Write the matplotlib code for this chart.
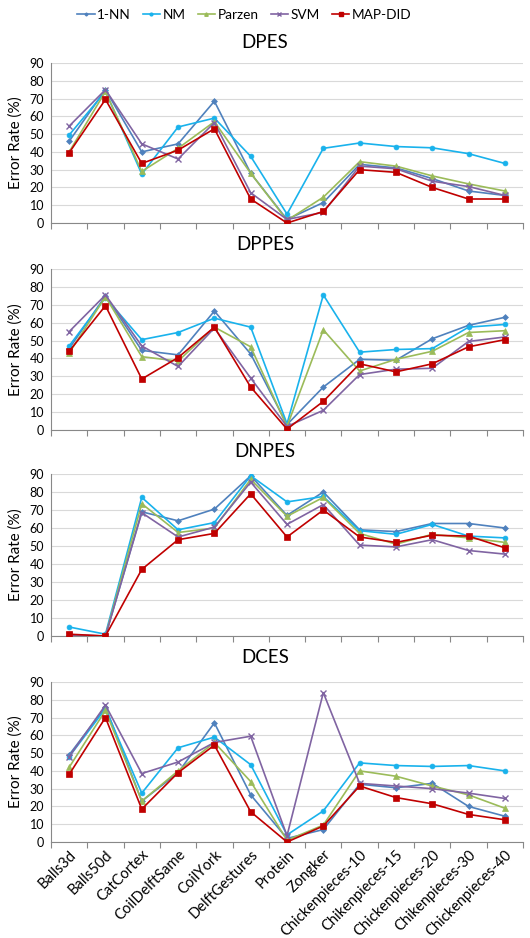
import matplotlib
matplotlib.use("Agg")
import matplotlib.pyplot as plt
from matplotlib.lines import Line2D

plt.rcParams['font.family'] = ['Lato', 'DejaVu Sans']

datasets = ["Balls3d", "Balls50d", "CatCortex", "CoilDelftSame", "CoilYork", "DelftGestures",
            "Protein", "Zongker", "Chickenpieces-10", "Chikenpieces-15", "Chickenpieces-20",
            "Chikenpieces-30", "Chickenpieces-40"]
methods = ["1-NN", "NM", "Parzen", "SVM", "MAP-DID"]
panel_titles = ["DPES", "DPPES", "DNPES", "DCES"]

# DPES
dpes_1nn = [46, 75, 40, 44.5, 68.5, 28, 2, 11.5, 33, 31, 25, 18, 15.5]
dpes_nm = [49.5, 74, 27.5, 54, 59, 37.5, 5, 42, 45, 43, 42.3, 39, 33.5]
dpes_parzen = [40, 74, 29, 42, 57, 28, 1.5, 14.5, 34.5, 32, 26.5, 22, 18]
dpes_svm = [54.5, 75, 44.5, 36, 56.5, 17, 2, 6, 32, 30.5, 23.5, 20.5, 15.5]
dpes_mapdid = [39.5, 69.5, 33.5, 41, 53, 13.5, 0, 6.5, 30, 28.5, 20, 13.5, 13.5]

# DPPES
dppes_1nn = [45.5, 75, 44.5, 42, 66.5, 42.5, 3, 24, 39.5, 39, 51, 58.5, 63]
dppes_nm = [47, 74, 50.5, 54.5, 62.5, 57.5, 3.5, 75.5, 43.5, 45, 45.5, 57.5, 59]
dppes_parzen = [43, 74.5, 41, 38.5, 57.5, 46.5, 2, 56, 33, 39.5, 44, 54.5, 55.5]
dppes_svm = [55, 75.5, 47, 35.5, 57, 29, 2, 11, 31, 34, 34.5, 49.5, 52]
dppes_mapdid = [44, 69.5, 28.5, 40.5, 57.5, 24, 0.5, 16, 37, 32.5, 37, 46.5, 50.5]

# DNPES
dnpes_1nn = [0.5, 0, 69, 64, 70.5, 89, 67, 80, 59, 58, 62.5, 62.5, 60]
dnpes_nm = [5, 1, 77, 59, 63, 89, 74.5, 77.5, 58.5, 56.5, 62, 55.5, 54.5]
dnpes_parzen = [0, 0, 73.5, 57.5, 60, 87, 66.5, 77, 57, 51, 56.5, 54.5, 52]
dnpes_svm = [0.5, 0, 68.5, 55, 60.5, 85.5, 62, 73, 50.5, 49.5, 53.5, 47.5, 45.5]
dnpes_mapdid = [1, 0, 37, 53.5, 57, 79, 55, 70, 55, 52, 56, 55.5, 49]

# DCES
dces_1nn = [49, 76, 23, 39, 67, 26.5, 2, 7, 32.5, 30.5, 33, 20, 14.5]
dces_nm = [48, 75, 27.5, 53, 59, 43.5, 4, 17.5, 44.5, 43, 42.5, 43, 40]
dces_parzen = [42, 74, 23, 40, 56, 34, 1, 9.5, 40, 37, 31.5, 26.5, 19]
dces_svm = [48, 77, 38.5, 45, 56, 59.5, 3.5, 84, 33, 31.5, 30, 27.5, 24.5]
dces_mapdid = [38, 70, 18.5, 39, 54.5, 17, 0, 9, 31.5, 25, 21.5, 15.5, 12.5]

panels = [
    [dpes_1nn, dpes_nm, dpes_parzen, dpes_svm, dpes_mapdid],
    [dppes_1nn, dppes_nm, dppes_parzen, dppes_svm, dppes_mapdid],
    [dnpes_1nn, dnpes_nm, dnpes_parzen, dnpes_svm, dnpes_mapdid],
    [dces_1nn, dces_nm, dces_parzen, dces_svm, dces_mapdid],
]

colors = ["#4F81BD", "#19B2EC", "#9BBB59", "#8064A2", "#C00000"]
markers = ["D", "o", "^", "x", "s"]
msizes = [3, 3.5, 4, 4, 4.5]

fig = plt.figure(figsize=(5.3, 9.38), dpi=100)

# axes boxes in pixels (top, bottom)
boxes = [(63, 223), (269, 430), (474, 636), (682, 842)]
title_y = [42, 245, 451, 657]
left, right = 51, 523
W, H = 530, 938

x = list(range(len(datasets)))
for p, (top, bot) in enumerate(boxes):
    ax = fig.add_axes([left / W, 1 - bot / H, (right - left) / W, (bot - top) / H])
    for i, vals in enumerate(panels[p]):
        ax.plot(x, vals, color=colors[i], marker=markers[i], markersize=msizes[i],
                linewidth=1.2, markeredgewidth=1 if markers[i] == "x" else 0.5,
                label=methods[i], zorder=3 + i)
    ax.set_xlim(-0.5, len(datasets) - 0.5)
    ax.set_ylim(0, 90)
    ax.set_yticks(range(0, 91, 10))
    ax.yaxis.grid(True, color="#D9D9D9", linewidth=0.8)
    ax.set_axisbelow(True)
    for s in ["top", "right"]:
        ax.spines[s].set_visible(False)
    for s in ["left", "bottom"]:
        ax.spines[s].set_color("#888888")
    ax.set_xticks([i - 0.5 for i in range(len(datasets) + 1)])
    ax.set_xticklabels([])
    ax.tick_params(axis="x", which="major", length=4, color="#888888", direction="out")
    ax.tick_params(axis="y", length=0, labelsize=9, pad=5)
    ax.set_ylabel("Error Rate (%)", fontsize=11, labelpad=5)
    ax.set_xticks(x, minor=True)
    if p == 3:
        ax.set_xticklabels(datasets, minor=True, rotation=45, ha="right",
                           rotation_mode="anchor", fontsize=10.5)
    ax.tick_params(axis="x", which="minor", length=0, pad=4)
    fig.text(265 / W, 1 - title_y[p] / H, panel_titles[p], ha="center", va="center", fontsize=13.5)

handles = [Line2D([0], [0], color=colors[i], marker=markers[i], markersize=msizes[i] - 1.5,
                  linewidth=1.2) for i in range(len(methods))]
fig.legend(handles, methods, loc="center", bbox_to_anchor=(244 / W, 1 - 15 / H), ncol=5,
           frameon=False, fontsize=9.8, handlelength=1.3, handletextpad=0.15, columnspacing=0.9)

fig.savefig("out.png", dpi=100)
